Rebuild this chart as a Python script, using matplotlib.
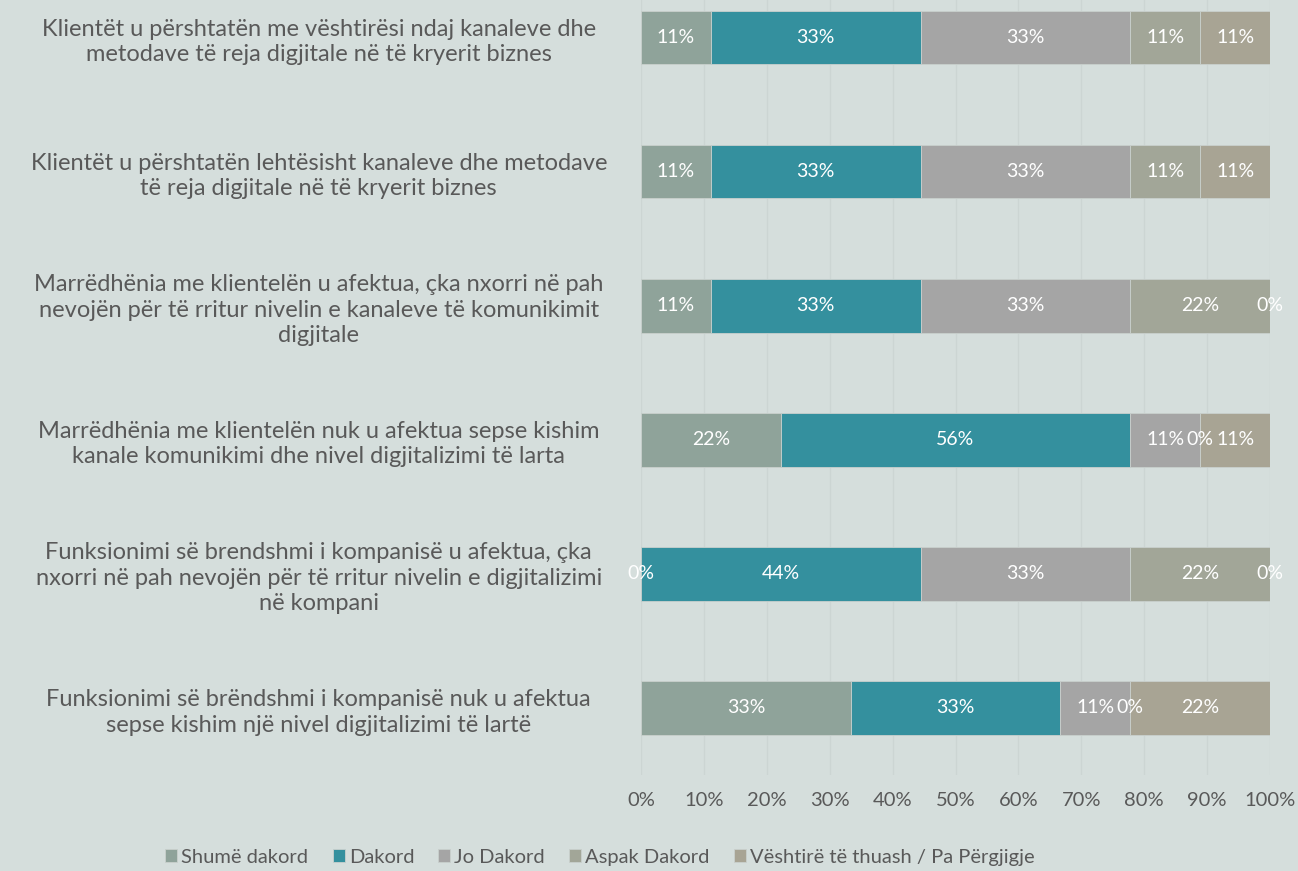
import numpy as np
import matplotlib.pyplot as plt

plt.rcParams['font.family'] = ['Lato', 'DejaVu Sans']

categories = [
    'Klientët u përshtatën me vështirësi ndaj kanaleve dhe\nmetodave të reja digjitale në të kryerit biznes',
    'Klientët u përshtatën lehtësisht kanaleve dhe metodave\ntë reja digjitale në të kryerit biznes',
    'Marrëdhënia me klientelën u afektua, çka nxorri në pah\nnevojën për të rritur nivelin e kanaleve të komunikimit\ndigjitale',
    'Marrëdhënia me klientelën nuk u afektua sepse kishim\nkanale komunikimi dhe nivel digjitalizimi të larta',
    'Funksionimi së brendshmi i kompanisë u afektua, çka\nnxorri në pah nevojën për të rritur nivelin e digjitalizimi\nnë kompani',
    'Funksionimi së brëndshmi i kompanisë nuk u afektua\nsepse kishim një nivel digjitalizimi të lartë',
]
series = ['Shumë dakord', 'Dakord', 'Jo Dakord', 'Aspak Dakord',
          'Vështirë të thuash / Pa Përgjigje']
# counts out of 9 respondents
shume = [1, 1, 1, 2, 0, 3]
dakord = [3, 3, 3, 5, 4, 3]
jo = [3, 3, 3, 1, 3, 1]
aspak = [1, 1, 2, 0, 2, 0]
veshtire = [1, 1, 0, 1, 0, 2]
colors = ['#8fa39a', '#34909e', '#a5a5a5', '#a2a698', '#a8a494']

data = np.array([shume, dakord, jo, aspak, veshtire], dtype=float) / 9.0

fig = plt.figure(figsize=(12.98, 8.71), dpi=100)
bg = '#d5dedc'
fig.patch.set_facecolor(bg)
ax = fig.add_axes([641/1298, 1 - 775/871, 629/1298, 775/871])
ax.set_facecolor(bg)

y = np.arange(len(categories))
left = np.zeros(len(categories))
for i, (name, vals) in enumerate(zip(series, data)):
    ax.barh(y, vals, left=left, height=0.4, color=colors[i], label=name,
            edgecolor='#c9d0cd', linewidth=0.6, zorder=2)
    for j, v in enumerate(vals):
        ax.text(left[j] + v / 2, y[j], f'{round(v*100):.0f}%', ha='center',
                va='center', color='white', fontsize=14, zorder=3)
    left += vals

ax.set_xlim(0, 1)
ax.set_ylim(5.5, -0.28)
ax.set_xticks(np.arange(0, 1.01, 0.1))
ax.set_xticklabels([f'{int(t*100)}%' for t in np.arange(0, 1.01, 0.1).round(1)])
ax.set_yticks(y)
ax.set_yticklabels(categories, fontsize=17, color='#595959', ha='center',
                   linespacing=1.27)
ax.tick_params(axis='y', length=0, pad=232)
ax.tick_params(axis='x', length=0, pad=12, labelsize=14.5, labelcolor='#595959')
ax.grid(axis='x', color='#ccd5d3', linewidth=1, zorder=0)
for s in ax.spines.values():
    s.set_visible(False)

leg = ax.legend(loc='center', ncol=5, frameon=False, fontsize=14.5,
                handlelength=0.6, handleheight=0.6, handletextpad=0.2,
                columnspacing=1.2, labelcolor='#595959')
leg.set_bbox_to_anchor((600/1298, 14/871, 0, 0), transform=fig.transFigure)

fig.savefig('out.png', dpi=100, facecolor=bg)
